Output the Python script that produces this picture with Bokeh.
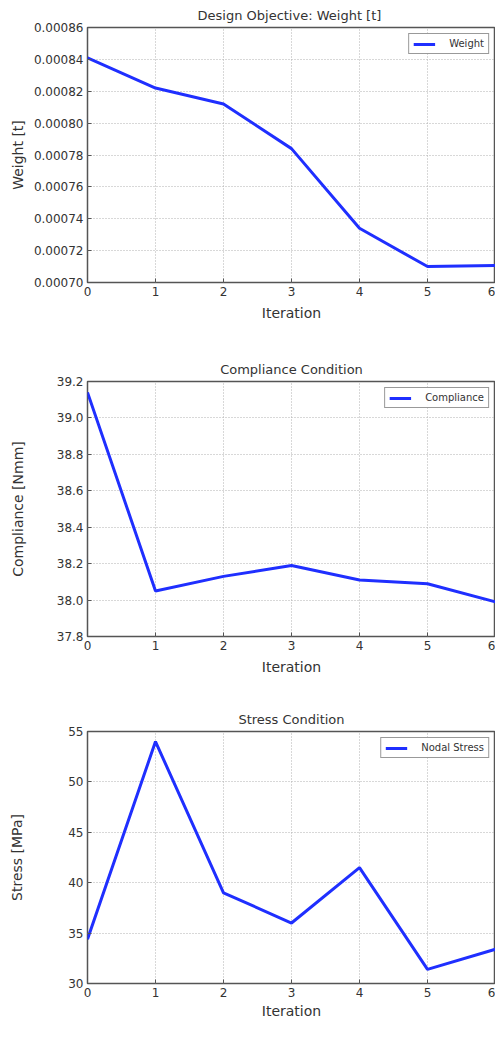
from bokeh.plotting import figure
from bokeh.layouts import column
from bokeh.models import FixedTicker, PrintfTickFormatter, Range1d, Legend, LegendItem
from bokeh.embed import file_html
from bokeh.resources import INLINE

iterations = [0, 1, 2, 3, 4, 5, 6]
weight = [0.000841, 0.000822, 0.000812, 0.000784, 0.000734, 0.000710, 0.0007106]
compliance = [39.14, 38.05, 38.13, 38.19, 38.11, 38.09, 37.99]
stress = [34.4, 54.0, 39.0, 36.0, 41.5, 31.4, 33.4]

weight_ticks = [0.00070, 0.00072, 0.00074, 0.00076, 0.00078, 0.00080, 0.00082, 0.00084, 0.00086]
compliance_ticks = [37.8, 38.0, 38.2, 38.4, 38.6, 38.8, 39.0, 39.2]
stress_ticks = [30, 35, 40, 45, 50, 55]

FONT = "DejaVu Sans"
TXT = "#333333"
LINE = "#1f2fff"


def make(title, ylab, ys, yticks, yfmt, legend_label, height, top, bottom, ystand, xstand=6):
    p = figure(width=495, height=height, output_backend="svg", toolbar_location=None,
               x_range=Range1d(0, 6), y_range=Range1d(yticks[0], yticks[-1]),
               min_border_left=87, min_border_right=0, min_border_top=top,
               min_border_bottom=bottom)
    p.title.text = title
    p.title.align = "center"
    p.title.text_font = FONT
    p.title.text_font_size = "13px"
    p.title.text_font_style = "normal"
    p.title.text_color = TXT
    p.title.offset = 0
    r = p.line(iterations, ys, line_color=LINE, line_width=3)
    p.xaxis.ticker = FixedTicker(ticks=iterations)
    p.yaxis.ticker = FixedTicker(ticks=yticks)
    p.yaxis.formatter = PrintfTickFormatter(format=yfmt)
    p.xaxis.axis_label = "Iteration"
    p.yaxis.axis_label = ylab
    for ax in (p.xaxis, p.yaxis):
        ax.axis_label_text_font = FONT
        ax.axis_label_text_font_size = "14px"
        ax.axis_label_text_font_style = "normal"
        ax.axis_label_text_color = TXT
        ax.major_label_text_font = FONT
        ax.major_label_text_font_size = "12px"
        ax.major_label_text_color = TXT
        ax.axis_line_color = None
        ax.major_tick_in = 4
        ax.major_tick_out = 0
        ax.major_tick_line_color = "#555555"
        ax.minor_tick_line_color = None
        ax.major_label_standoff = 4
    p.xaxis.axis_label_standoff = xstand
    p.yaxis.axis_label_standoff = ystand
    p.grid.grid_line_color = "#b0b0b0"
    p.grid.grid_line_dash = "1 2"
    p.grid.grid_line_width = 1
    p.outline_line_color = "#555555"
    p.outline_line_width = 1.5
    p.background_fill_color = "white"
    p.border_fill_color = "white"
    leg = Legend(items=[LegendItem(label=legend_label, renderers=[r])], location="top_right")
    leg.label_text_font = FONT
    leg.label_text_font_size = "10px"
    leg.label_text_color = TXT
    leg.border_line_color = "#333333"
    leg.border_line_width = 1
    leg.glyph_width = 22
    leg.glyph_height = 10
    leg.padding = 4
    leg.margin = 6
    leg.spacing = 0
    leg.label_standoff = 14
    leg.label_height = 10
    p.add_layout(leg)
    return p


p1 = make("Design Objective:  Weight [t]", "Weight [t]", weight, weight_ticks, "%.5f", "Weight", 354, 18, 72, 5)
p2 = make("Compliance Condition", "Compliance [Nmm]", compliance, compliance_ticks, "%.1f", "Compliance", 350, 20, 68, 28)
p3 = make("Stress Condition", "Stress [MPa]", stress, stress_ticks, "%d", "Nodal Stress", 317, 24, 28, 40, 3)

layout = column(p1, p2, p3, spacing=0)
open("out.html", "w").write(file_html(layout, INLINE))
